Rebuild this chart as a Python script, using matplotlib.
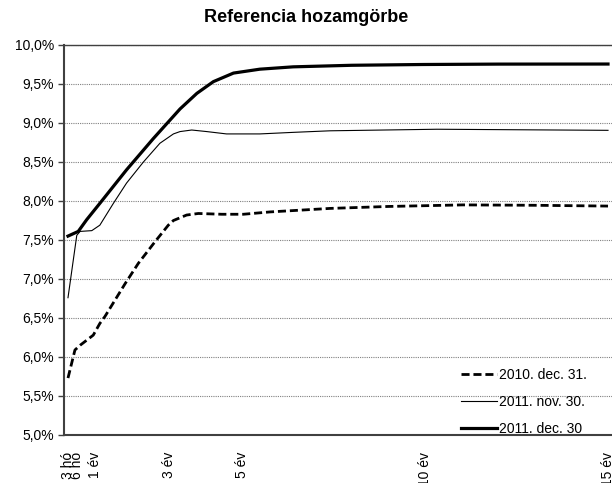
import matplotlib.pyplot as plt
from matplotlib.ticker import FuncFormatter

plt.rcParams['font.family'] = ['Liberation Sans', 'DejaVu Sans']

# futamidő (év) és hozamok (%)
ev_2010 = [0.25, 0.44, 0.58, 0.94, 1.12, 1.26, 1.81, 2.17, 2.63, 2.99, 3.13, 3.49, 3.81, 4.45, 5.04,
           5.77, 6.50, 7.41, 9.0, 11.04, 13.0, 15.0]
hozam_2010 = [5.73, 6.09, 6.15, 6.28, 6.43, 6.52, 6.94, 7.20, 7.48, 7.69, 7.75, 7.82, 7.84, 7.83, 7.83,
              7.86, 7.88, 7.905, 7.93, 7.95, 7.945, 7.935]

ev_nov = [0.25, 0.49, 0.58, 0.90, 1.12, 1.49, 1.85, 2.31, 2.76, 3.13, 3.31, 3.63, 4.04, 4.58, 5.49,
          6.40, 7.41, 10.33, 15.0]
hozam_nov = [6.76, 7.56, 7.61, 7.62, 7.69, 7.97, 8.23, 8.50, 8.74, 8.86, 8.89, 8.91, 8.89, 8.86, 8.86,
             8.88, 8.90, 8.92, 8.906]

ev_dec = [0.25, 0.53, 0.76, 1.12, 1.85, 2.58, 3.31, 3.77, 4.22, 4.77, 5.49, 6.40, 8.0, 9.95, 12.0, 15.0]
hozam_dec = [7.55, 7.61, 7.76, 7.97, 8.40, 8.80, 9.18, 9.38, 9.53, 9.64, 9.69, 9.72, 9.74, 9.75, 9.755, 9.756]

tick_ev = [0.25, 0.5, 1, 3, 5, 10, 15]
tick_cimkek = ["3 hó", "6 hó", "1 év", "3 év", "5 év", "10 év", "15 év"]

fig = plt.figure(figsize=(6.12, 4.83), dpi=100)
ax = fig.add_axes([64 / 612, 1 - 435 / 483, 548 / 612, 390 / 483])

ax.plot(ev_2010, hozam_2010, color='black', linewidth=2.0, linestyle=(0, (2.9, 1.4)), label='2010. dec. 31.')
ax.plot(ev_nov, hozam_nov, color='black', linewidth=0.8, label='2011. nov. 30.')
ax.plot(ev_dec, hozam_dec, color='black', linewidth=2.3, label='2011. dec. 30')

ax.set_xlim(0.141, 15.109)
ax.set_ylim(5.0, 10.0)
ax.set_yticks([5.0 + 0.5 * i for i in range(11)])
ax.yaxis.set_major_formatter(FuncFormatter(lambda v, p: f"{v:.1f}%".replace('.', ',')))
ax.set_xticks(tick_ev)
ax.set_xticklabels(tick_cimkek, rotation=90, va='top', fontsize=10)
ax.tick_params(axis='x', length=0, pad=12)
ax.tick_params(axis='y', length=4, width=1, color='#404040', labelsize=10, pad=3)

ax.grid(axis='y', color='#808080', linestyle=(0, (1, 1)), linewidth=0.8)
ax.spines['right'].set_visible(False)
for s in ['left', 'bottom', 'top']:
    ax.spines[s].set_color('#404040')
    ax.spines[s].set_linewidth(1.5)
ax.spines['top'].set_linewidth(1.0)

fig.suptitle("Referencia hozamgörbe", x=0.5, y=1 - 17 / 483, va='center', fontsize=13, fontweight='bold')

fig.legend(loc='center', bbox_to_anchor=(0.856, 0.168), frameon=False, fontsize=10,
           handlelength=2.6, handletextpad=0.1, labelspacing=0.95, borderpad=0)

fig.savefig('out.png', dpi=100)
